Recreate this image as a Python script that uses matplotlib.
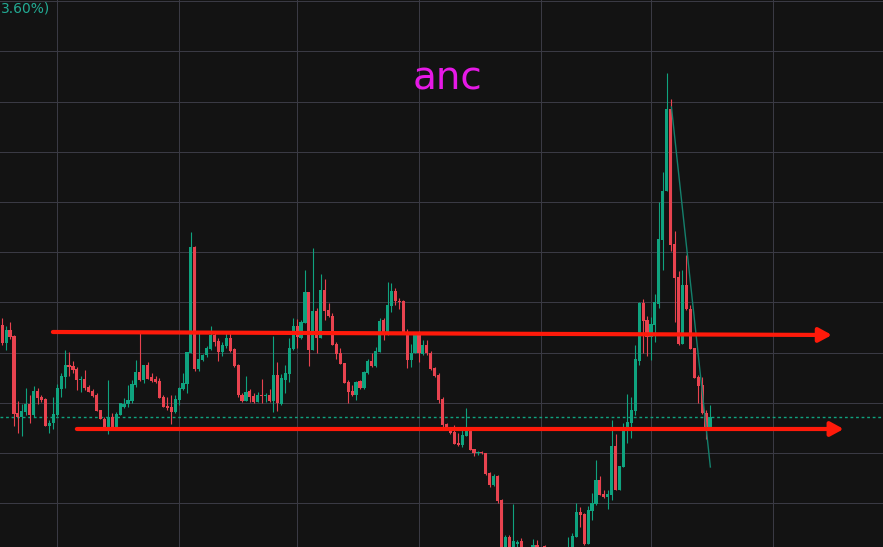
import numpy as np
import pandas as pd
import matplotlib
matplotlib.use("Agg")
import matplotlib.pyplot as plt
import matplotlib.dates as mdates

# daily candles
dates = pd.date_range("2022-09-17", periods=181, freq="D")

opens = [228, 210, 223, 217, 140, 136, 141, 149, 138, 162,
         156, 154, 127, 130, 138, 164, 176, 188, 187, 184,
         173, 174, 166, 162, 158, 143, 134, 125, 136, 124,
         138, 146, 149, 152, 168, 181, 173, 188, 176, 174,
         172, 156, 147, 146, 141, 153, 164, 169, 200, 306,
         184, 193, 198, 204, 218, 212, 201, 207, 215, 204,
         188, 158, 152, 162, 157, 151, 158, 157, 158, 152,
         178, 149, 173, 179, 204, 227, 215, 230, 261, 203,
         242, 215, 263, 243, 237, 209, 200, 190, 171, 162,
         158, 172, 165, 180, 192, 187, 201, 233, 218, 247,
         262, 252, 252, 220, 193, 200, 220, 199, 208, 200,
         185, 178, 154, 129, 125, 121, 110, 108, 117, 123,
         104, 100, 101, 100, 80, 68, 77, 53, -3, 16,
         0, 9, 12, 1, -12, -3, 8, -3, 7, -5,
         -3, -7, -3, -2, -5, 3, 16, 41, 39, 9,
         42, 49, 73, 59, 56, 58, 107, 63, 86, 122,
         130, 142, 192, 250, 233, 216, 228, 249, 313, 362,
         444, 309, 276, 209, 268, 244, 205, 176, 168, 140, 126]

closes = [210, 223, 216, 139, 136, 142, 149, 138, 162, 155,
          153, 127, 130, 139, 165, 177, 188, 186, 183, 173,
          174, 165, 161, 157, 142, 134, 124, 136, 124, 139,
          150, 149, 153, 169, 181, 173, 188, 174, 172, 171,
          155, 146, 145, 141, 154, 165, 170, 201, 306, 184,
          194, 198, 205, 218, 211, 201, 208, 215, 202, 187,
          158, 152, 161, 156, 151, 158, 157, 158, 152, 178,
          150, 175, 180, 205, 227, 216, 231, 261, 203, 242,
          215, 263, 242, 237, 208, 199, 189, 170, 161, 158,
          171, 165, 181, 192, 187, 202, 232, 218, 248, 262,
          252, 251, 220, 193, 200, 220, 200, 208, 200, 184,
          177, 153, 128, 125, 120, 109, 108, 118, 123, 103,
          100, 101, 100, 79, 68, 77, 52, -7, 16, -3,
          12, 11, 1, -12, -5, 8, -3, -8, -5, -3,
          -7, -3, -2, 1, 3, 17, 41, 38, 9, 43,
          50, 73, 58, 56, 59, 107, 63, 87, 122, 131,
          143, 194, 250, 232, 216, 229, 251, 314, 362, 444,
          308, 275, 209, 268, 244, 204, 175, 167, 140, 126, 136]

highs = [235, 227, 231, 218, 152, 149, 165, 158, 167, 165,
         158, 155, 133, 156, 169, 180, 203, 201, 192, 186,
         177, 183, 168, 164, 160, 143, 136, 173, 140, 141,
         150, 155, 168, 173, 193, 222, 188, 191, 180, 177,
         175, 158, 156, 158, 158, 166, 180, 201, 321, 307,
         220, 199, 207, 227, 220, 215, 211, 220, 222, 205,
         189, 160, 177, 164, 160, 161, 174, 160, 164, 217,
         191, 179, 188, 215, 235, 234, 233, 283, 261, 305,
         245, 279, 274, 250, 240, 211, 205, 190, 173, 168,
         172, 173, 182, 194, 200, 206, 235, 235, 271, 270,
         265, 255, 253, 224, 209, 221, 222, 213, 213, 202,
         186, 180, 156, 130, 126, 128, 120, 123, 145, 123,
         104, 102, 102, 100, 81, 79, 78, 54, 18, 18,
         49, 13, 15, 4, 3, 14, 13, 3, 8, 4,
         3, 2, 4, 5, 16, 20, 50, 46, 40, 47,
         60, 93, 77, 63, 63, 133, 119, 87, 130, 159,
         156, 208, 251, 254, 237, 236, 259, 351, 381, 480,
         454, 322, 282, 283, 298, 248, 205, 178, 176, 143, 148]

lows = [208, 203, 214, 127, 120, 117, 138, 130, 136, 149,
        151, 127, 120, 124, 137, 156, 165, 177, 180, 163,
        161, 163, 161, 156, 142, 134, 124, 119, 124, 124,
        138, 145, 146, 150, 166, 172, 170, 174, 171, 170,
        155, 146, 143, 129, 140, 148, 163, 160, 200, 182,
        182, 192, 196, 203, 207, 192, 197, 205, 201, 186,
        156, 151, 152, 151, 150, 151, 150, 151, 151, 141,
        142, 148, 160, 171, 203, 205, 214, 230, 187, 203,
        200, 215, 233, 236, 208, 194, 189, 170, 150, 157,
        153, 164, 164, 179, 186, 186, 201, 213, 218, 241,
        248, 244, 220, 185, 186, 200, 191, 198, 198, 183,
        176, 150, 125, 124, 119, 109, 107, 106, 117, 103,
        97, 98, 99, 78, 66, 67, 50, -12, -7, -9,
        -5, 5, -3, -17, -15, -7, -6, -13, -9, -12,
        -10, -10, -9, -7, -8, 1, 16, 26, 8, 9,
        33, 48, 58, 55, 44, 53, 63, 63, 86, 110,
        115, 138, 188, 200, 197, 193, 211, 245, 283, 362,
        302, 231, 208, 209, 243, 204, 175, 150, 139, 114, 126]

# drawings (day offset from first candle, price)
upper_arrow = [(12.9, 221), (211.0, 218)]
lower_arrow = [(19.0, 124), (214.0, 124)]
trend_line = [(170.2, 446), (180.1, 86)]

bg = "#131313"
up_col = "#0fa37f"
down_col = "#e8434f"
grid_col = "#3a3a44"
arrow_col = "#ff1a0a"

o = np.array(opens, dtype=float)
c = np.array(closes, dtype=float)
h = np.array(highs, dtype=float)
l = np.array(lows, dtype=float)
x = mdates.date2num(dates)
x0 = x[0]

colors = np.where(c >= o, up_col, down_col)
body = c - o
body = np.where(np.abs(body) < 1, np.where(body >= 0, 1, -1), body)

fig = plt.figure(figsize=(8.83, 5.47), dpi=100, facecolor=bg)
ax = fig.add_axes([0, 0, 1, 1])
ax.set_facecolor(bg)

ax.vlines(x, l, h, colors=colors, lw=0.8, zorder=2)
ax.bar(x, body, bottom=o, width=0.8, color=colors, linewidth=0, zorder=3)

# last price line
ax.axhline(c[-1], color=up_col, lw=1, ls=(0, (2, 2)), zorder=1)

# trend line
ax.plot([x0 + p[0] for p in trend_line], [p[1] for p in trend_line],
        color="#14806c", lw=1.0, zorder=4)

# red arrows
for arr in (upper_arrow, lower_arrow):
    (sx, sy), (ex, ey) = arr
    ax.annotate("", xy=(x0 + ex, ey), xytext=(x0 + sx, sy),
                arrowprops=dict(arrowstyle="-|>,head_length=0.55,head_width=0.3",
                                color=arrow_col, lw=3.0, mutation_scale=14,
                                shrinkA=0, shrinkB=0),
                zorder=5)

ax.set_xlim(x0 - 0.55, x0 + 224.0)
ax.set_ylim(6, 553)

ax.set_yticks(np.arange(49.8, 560, 50.2))
ax.xaxis.set_major_locator(mdates.MonthLocator())
ax.grid(True, color=grid_col, lw=0.75, zorder=0)
ax.set_axisbelow(True)
ax.tick_params(length=0, labelbottom=False, labelleft=False)
for s in ax.spines.values():
    s.set_visible(False)

ax.text(0.5065, 0.857, "anc", transform=ax.transAxes, ha="center", va="center",
        fontsize=28, color="#e619e6")
ax.text(0.001, 0.997, "3.60%)", transform=ax.transAxes, ha="left", va="top",
        fontsize=10, color="#22ab94")

fig.savefig("out.png", dpi=100, facecolor=bg)
